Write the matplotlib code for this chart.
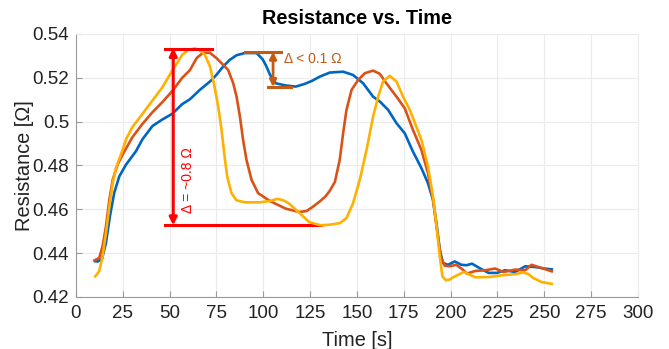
import matplotlib
matplotlib.use("Agg")
import matplotlib.pyplot as plt

plt.rcParams['font.family'] = ['Liberation Sans', 'DejaVu Sans']

# -----------------------------
# DATA
# -----------------------------
t_blue = [10.3, 11.6, 13.9, 16, 18.1, 20.4, 23.1, 26.7, 32, 35.5, 40.8, 46.1, 51.4, 56.7, 60.8,
          66.1, 71.5, 75, 78.6, 82.1, 85.7, 90.1, 96.4, 99.6, 101.5, 103.5, 106.7, 112, 117.3,
          122, 126.2, 130, 135.5, 142.6, 147.9, 153.3, 158.6, 162.2, 166.6, 171.1, 175.5,
          179.9, 184.4, 187.9, 190.6, 192.4, 194.2, 195.9, 198.6, 202.2, 205.7, 208.5, 211.4,
          215.8, 220.3, 224.7, 229.1, 234.4, 239.8, 245, 250, 254]
r_blue = [0.4363, 0.4362, 0.4374, 0.4447, 0.4568, 0.4675, 0.475, 0.4804, 0.4865, 0.492, 0.498,
          0.501, 0.5036, 0.508, 0.5102, 0.5145, 0.5183, 0.5214, 0.5252, 0.5282, 0.5303, 0.5313,
          0.5313, 0.5285, 0.5255, 0.5215, 0.5175, 0.5165, 0.516, 0.5172, 0.5187, 0.5205, 0.5224,
          0.5228, 0.5213, 0.5175, 0.5114, 0.5092, 0.5054, 0.4993, 0.4947, 0.4863, 0.4788,
          0.4719, 0.4643, 0.4537, 0.4416, 0.4355, 0.4347, 0.4362, 0.4347, 0.4345, 0.4352,
          0.433, 0.431, 0.431, 0.4322, 0.4314, 0.434, 0.4337, 0.433, 0.4326]

t_orange = [9.8, 12.4, 14.2, 16, 17.8, 19.6, 22.2, 24.9, 30.1, 35.5, 40.8, 46.1, 51.4, 56.7,
            60.8, 64.4, 67.9, 71.5, 75, 78.6, 81.2, 83.9, 85.7, 87.5, 89.2, 91, 93.7, 97.2,
            103.5, 112, 119.1, 123, 126.2, 130, 133.3, 135.5, 138.2, 140.8, 142.6, 144.4,
            147.1, 150.6, 154.2, 158.6, 162.2, 165.7, 171.1, 175.5, 179.9, 184.4, 187.9,
            190.6, 192.7, 194.7, 196.8, 199.5, 203, 206.6, 208.7, 213.2, 218.5, 223.8, 228.2,
            234.4, 239.8, 243.2, 248.6, 254]
r_orange = [0.4367, 0.4378, 0.4432, 0.4523, 0.4644, 0.4735, 0.4804, 0.485, 0.4929, 0.499,
            0.5043, 0.5089, 0.514, 0.520, 0.5235, 0.529, 0.5315, 0.5314, 0.529, 0.5259, 0.5236,
            0.5176, 0.5115, 0.5024, 0.4917, 0.4826, 0.4735, 0.4674, 0.4638, 0.4603, 0.4588,
            0.4592, 0.461, 0.4635, 0.466, 0.4685, 0.4725, 0.4826, 0.4947, 0.5054, 0.5145,
            0.519, 0.5221, 0.5233, 0.5218, 0.5175, 0.5114, 0.5061, 0.4962, 0.4871, 0.4765,
            0.4643, 0.4507, 0.4385, 0.4343, 0.434, 0.4347, 0.4324, 0.4307, 0.4319, 0.4322,
            0.433, 0.4314, 0.4325, 0.4322, 0.4347, 0.4332, 0.4317]

t_yellow = [10.3, 12.4, 14.2, 16, 17.8, 19.6, 21.3, 24, 27, 30.1, 35.5, 40.8, 46.1, 51.4, 56.7,
            60, 63.5, 66.1, 68.8, 71.5, 73.6, 75.9, 77.7, 79.1, 80.7, 83, 85.7, 90.1, 98.1,
            103.5, 107.6, 111, 113.8, 119.1, 124.4, 130.6, 135.5, 140.8, 144.4, 147.9, 151.5,
            155.1, 158.6, 161.3, 163.9, 167.5, 171.1, 174.6, 178.2, 184.4, 187.9, 190.6,
            192.7, 194.2, 195.6, 197.5, 199.5, 201.6, 207, 213.2, 220.3, 227.3, 234.4, 238.5,
            241.5, 244, 248.6, 254]
r_yellow = [0.4294, 0.4318, 0.4386, 0.4492, 0.4614, 0.472, 0.4788, 0.485, 0.4925, 0.4975,
            0.5036, 0.5096, 0.5157, 0.5233, 0.5305, 0.5328, 0.5334, 0.5326, 0.5305, 0.5252,
            0.5176, 0.507, 0.4963, 0.4857, 0.475, 0.4674, 0.4641, 0.4632, 0.4632, 0.4638,
            0.4648, 0.464, 0.4626, 0.4585, 0.4542, 0.4527, 0.453, 0.4537, 0.456, 0.4628,
            0.4735, 0.4871, 0.5023, 0.5114, 0.5183, 0.5209, 0.5183, 0.5114, 0.5054, 0.4917,
            0.4795, 0.4658, 0.4507, 0.4385, 0.4294, 0.4276, 0.428, 0.4291, 0.4314, 0.429,
            0.4291, 0.4299, 0.4304, 0.4312, 0.4305, 0.4287, 0.4268, 0.426]

x_ticks = [0, 25, 50, 75, 100, 125, 150, 175, 200, 225, 250, 275, 300]
y_ticks = [0.42, 0.44, 0.46, 0.48, 0.5, 0.52, 0.54]
y_tick_labels = ["0.42", "0.44", "0.46", "0.48", "0.5", "0.52", "0.54"]

# -----------------------------
# PLOT
# -----------------------------
fig = plt.figure(figsize=(6.69, 3.49), dpi=100)
ax = fig.add_axes([0.1136, 0.149, 0.84, 0.7536])

lw = 1.9
ax.plot(t_blue, r_blue, color='#0066C4', lw=lw, solid_joinstyle='round', zorder=3)
ax.plot(t_orange, r_orange, color='#D95319', lw=lw, solid_joinstyle='round', zorder=3)
ax.plot(t_yellow, r_yellow, color='#FFB000', lw=lw, solid_joinstyle='round', zorder=3)

# big delta annotation (red)
red = '#FF0000'
ax.plot([47.5, 72.4], [0.5333, 0.5333], color=red, lw=2.2, zorder=4)
ax.plot([47.5, 131], [0.4530, 0.4530], color=red, lw=2.2, zorder=2)
ax.annotate('', xy=(51.9, 0.5336), xytext=(51.9, 0.4527),
            arrowprops=dict(arrowstyle='<|-|>', color=red, lw=2.2,
                            mutation_scale=11, shrinkA=0, shrinkB=0), zorder=4)
ax.text(59.8, 0.4735, 'Δ = ~0.8 Ω', color=red, rotation=90,
        ha='center', va='center', fontsize=10)

# small delta annotation (dark orange)
brown = '#C55A11'
ax.plot([90.1, 109.2], [0.5317, 0.5317], color=brown, lw=2.2, zorder=4)
ax.plot([102.4, 115], [0.5160, 0.5160], color=brown, lw=2.2, zorder=4)
ax.annotate('', xy=(105.2, 0.5319), xytext=(105.2, 0.5158),
            arrowprops=dict(arrowstyle='<|-|>', color=brown, lw=2,
                            mutation_scale=10, shrinkA=0, shrinkB=0), zorder=4)
ax.text(111, 0.5285, 'Δ < 0.1 Ω', color=brown, ha='left', va='center', fontsize=10)

ax.set_xlim(0, 300)
ax.set_ylim(0.42, 0.54)
ax.set_xticks(x_ticks)
ax.set_yticks(y_ticks)
ax.set_yticklabels(y_tick_labels)
ax.tick_params(direction='in', labelsize=13.5, colors='#222222', length=4, width=0.8,
               color='#999999')
ax.tick_params(axis='x', pad=6)
ax.tick_params(axis='y', pad=5)
ax.grid(True, color='#ebebeb', lw=0.8)
ax.set_axisbelow(True)
for side in ['top', 'right']:
    ax.spines[side].set_color('#ebebeb')
for side in ['left', 'bottom']:
    ax.spines[side].set_color('#999999')

ax.set_xlabel('Time [s]', fontsize=14.4, color='#222222', labelpad=6)
ax.set_ylabel('Resistance [Ω]', fontsize=14.4, color='#222222', labelpad=-1)
ax.set_title('Resistance vs. Time', fontsize=14.3, fontweight='bold', pad=7)

fig.savefig('out.png', dpi=100)
